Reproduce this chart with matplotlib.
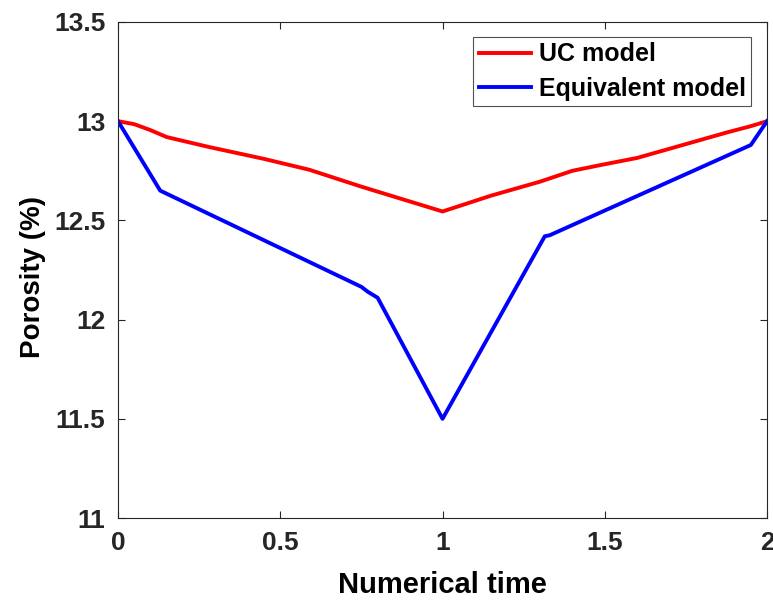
import matplotlib.pyplot as plt

plt.rcParams['font.family'] = ['Liberation Sans', 'DejaVu Sans']
plt.rcParams['font.weight'] = 'bold'

# UC model
uc_t = [0, 0.05, 0.1, 0.15, 0.28, 0.45, 0.59, 0.75, 0.9, 1.0, 1.15, 1.3, 1.4, 1.49, 1.6, 1.74, 1.88, 1.95, 1.98, 2.0]
uc_phi = [13.0, 12.985, 12.955, 12.92, 12.87, 12.81, 12.755, 12.67, 12.595, 12.545, 12.625, 12.695, 12.75, 12.78, 12.815, 12.88, 12.945, 12.975, 12.99, 13.0]

# Equivalent model
eq_t = [0, 0.13, 0.75, 0.77, 0.8, 1.0, 1.315, 1.33, 1.95, 2.0]
eq_phi = [13.0, 12.65, 12.165, 12.14, 12.11, 11.5, 12.42, 12.425, 12.88, 13.0]

fig, ax = plt.subplots()
fig.set_size_inches(7.73, 6.01)
ax.set_position([0.1527, 0.1381, 0.8396, 0.8253])

ax.plot(uc_t, uc_phi, color='#ff0000', lw=2.8, label='UC model')
ax.plot(eq_t, eq_phi, color='#0000ff', lw=2.8, label='Equivalent model')

ax.set_xlim(0, 2)
ax.set_ylim(11, 13.5)
ax.set_xticks([0, 0.5, 1, 1.5, 2])
ax.set_xticklabels(['0', '0.5', '1', '1.5', '2'])
ax.set_yticks([11, 11.5, 12, 12.5, 13, 13.5])
ax.set_yticklabels(['11', '11.5', '12', '12.5', '13', '13.5'])
ax.tick_params(direction='in', top=True, right=True, labelsize=19, length=5, width=0.8,
               color='#262626', labelcolor='#262626', pad=9)
for s in ax.spines.values():
    s.set_color('#262626')
    s.set_linewidth(0.8)

ax.set_xlabel('Numerical time', fontsize=21, fontweight='bold', labelpad=12)
ax.set_ylabel('Porosity (%)', fontsize=20, fontweight='bold')
ax.yaxis.set_label_coords(-0.111, 0.485)

leg = ax.legend(loc='upper right', bbox_to_anchor=(0.976, 0.97), fontsize=18, frameon=True,
                fancybox=False, edgecolor='#262626', handlelength=2.1, handletextpad=0.3,
                borderpad=0.22, labelspacing=0.42, borderaxespad=0)
leg.get_frame().set_linewidth(0.8)

fig.savefig('out.png', dpi=100)
